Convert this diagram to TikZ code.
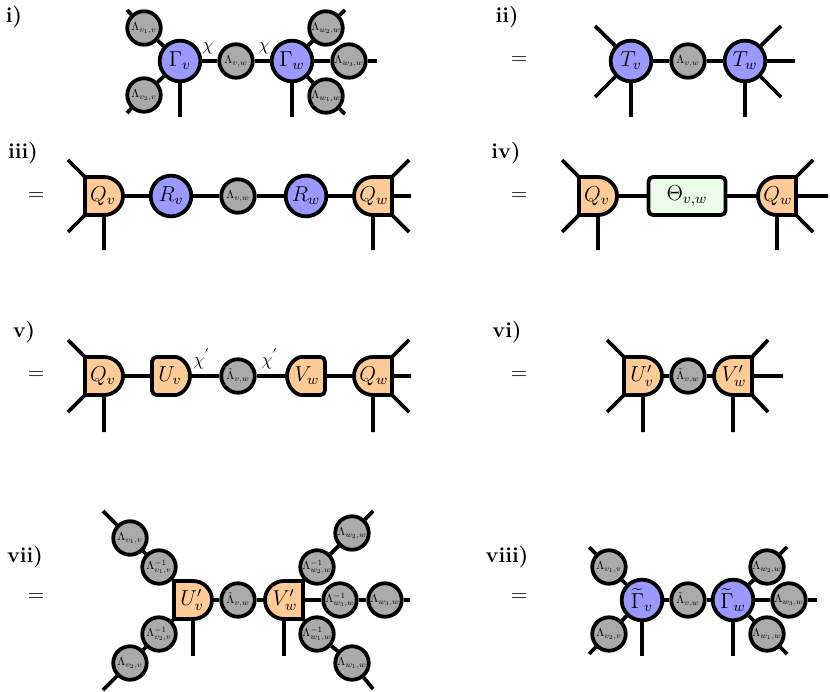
\documentclass[tikz,border=0pt]{standalone}
\usepackage{graphicx}
\definecolor{cblue}{RGB}{153,153,255}
\definecolor{cgray}{RGB}{170,170,170}
\definecolor{corange}{RGB}{255,204,153}
\definecolor{cgreen}{RGB}{235,252,232}
\newcommand{\tinylab}[1]{\makebox[0pt]{\scalebox{0.64}{$#1$}}}
\tikzset{
  big/.style={circle, draw, fill=cblue, minimum size=22.6pt, inner sep=0pt, font=\large},
  lam/.style={circle, draw, fill=cgray, minimum size=18.6pt, inner sep=0pt},
  lbl/.style={font=\large\bfseries, inner sep=0pt},
  eqs/.style={font=\large, inner sep=0pt},
  thbox/.style={rectangle, draw, fill=cgreen, rounded corners=2.5pt, minimum width=42.8pt, minimum height=21.1pt, inner sep=0pt, font=\large},
  rnd/.style={rounded corners=2.5pt},
  pics/dr/.style 2 args={code={
    \draw[fill=corange,#2] (-19,-19) -- (0,-19) arc(90:-90:10.556pt) -- (-19,19) -- cycle;
    \node[font=\large,inner sep=0pt] (-c) at (-1,0) {#1};
    \coordinate (-nw) at (-19,-19);
    \coordinate (-sw) at (-19,19);
    \coordinate (-s) at (0,19);
    \coordinate (-e) at (19,0);
    \coordinate (-w) at (-19,0);
  }},
  pics/dl/.style 2 args={code={
    \draw[fill=corange,#2] (19,-19) -- (0,-19) arc(90:270:10.556pt) -- (19,19) -- cycle;
    \node[font=\large,inner sep=0pt] (-c) at (1,0) {#1};
    \coordinate (-ne) at (19,-19);
    \coordinate (-se) at (19,19);
    \coordinate (-s) at (0,19);
    \coordinate (-e) at (19,0);
    \coordinate (-w) at (-19,0);
  }},
}
\begin{document}
\begin{tikzpicture}[x=0.5556pt,y=-0.5556pt,line width=2.1pt]
\useasboundingbox (0,0) rectangle (830,692);

% ---------- i)
\node[lbl] (Li) at (14,17) {i)};
\node[big] (gv1) at (180,61) {$\Gamma_v$};
\node[lam] (lvw1) at (236,61) {\tinylab{\Lambda_{v,w}}};
\node[big] (gw1) at (292,61) {$\Gamma_w$};
\node[lam] (lv11) at (144,28) {\tinylab{\Lambda_{v_1,v}}};
\node[lam] (lv21) at (144,95) {\tinylab{\Lambda_{v_2,v}}};
\node[lam] (lw21) at (326,28) {\tinylab{\Lambda_{w_2,w}}};
\node[lam] (lw31) at (349,61) {\tinylab{\Lambda_{w_3,w}}};
\node[lam] (lw11) at (326,96) {\tinylab{\Lambda_{w_1,w}}};
\coordinate (a1) at (127,10);
\coordinate (a2) at (127,113);
\coordinate (a3) at (180,117);
\coordinate (a4) at (292,117);
\coordinate (a5) at (345,10);
\coordinate (a6) at (377,61);
\coordinate (a7) at (345,114);
\draw (gv1)--(lvw1) (lvw1)--(gw1);
\draw (gv1)--(lv11) (lv11)--(a1);
\draw (gv1)--(lv21) (lv21)--(a2);
\draw (gv1)--(a3) (gw1)--(a4);
\draw (gw1)--(lw21) (lw21)--(a5);
\draw (gw1)--(lw31) (lw31)--(a6);
\draw (gw1)--(lw11) (lw11)--(a7);
\node (chi1) at (208,48) {$\chi$};
\node (chi2) at (264,48) {$\chi$};

% ---------- ii)
\node[lbl] (Lii) at (507,17) {ii)};
\node[eqs] (eq2) at (519,61) {$=$};
\node[big] (tv2) at (631,61) {$T_v$};
\node[lam] (lvw2) at (688,61) {\tinylab{\Lambda_{v,w}}};
\node[big] (tw2) at (745,61) {$T_w$};
\coordinate (b1) at (595,26);
\coordinate (b2) at (595,97);
\coordinate (b3) at (631,117);
\coordinate (b4) at (781,26);
\coordinate (b5) at (795,61);
\coordinate (b6) at (781,97);
\coordinate (b7) at (745,117);
\draw (tv2)--(lvw2) (lvw2)--(tw2);
\draw (tv2)--(b1) (tv2)--(b2) (tv2)--(b3);
\draw (tw2)--(b4) (tw2)--(b5) (tw2)--(b6) (tw2)--(b7);

% ---------- iii)
\node[lbl] (Liii) at (23,153) {iii)};
\node[eqs] (eq3) at (36,197) {$=$};
\pic (qv3) at (104,196) {dr={$Q_v$}{}};
\node[big] (rv3) at (171,196) {$R_v$};
\node[lam] (lvw3) at (238,196) {\tinylab{\Lambda_{v,w}}};
\node[big] (rw3) at (306,196) {$R_w$};
\pic (qw3) at (373,196) {dl={$Q_w$}{}};
\coordinate (c1) at (68,160);
\coordinate (c2) at (68,232);
\coordinate (c3) at (104,250);
\coordinate (c4) at (409,160);
\coordinate (c5) at (411,196);
\coordinate (c6) at (409,232);
\coordinate (c7) at (373,250);
\draw (qv3-nw)--(c1) (qv3-sw)--(c2) (qv3-s)--(c3);
\draw (qw3-ne)--(c4) (qw3-e)--(c5) (qw3-se)--(c6) (qw3-s)--(c7);
\draw (qv3-e)--(rv3) (rv3)--(lvw3) (lvw3)--(rw3) (rw3)--(qw3-w);

% ---------- iv)
\node[lbl] (Liv) at (506,153) {iv)};
\node[eqs] (eq4) at (519,197) {$=$};
\pic (qv4) at (598,196) {dr={$Q_v$}{}};
\node[thbox] (th4) at (687,196) {$\Theta_{v,w}$};
\pic (qw4) at (777,196) {dl={$Q_w$}{}};
\coordinate (d1) at (562,160);
\coordinate (d2) at (562,232);
\coordinate (d3) at (598,250);
\coordinate (d4) at (813,160);
\coordinate (d5) at (828,196);
\coordinate (d6) at (813,232);
\coordinate (d7) at (777,250);
\draw (qv4-nw)--(d1) (qv4-sw)--(d2) (qv4-s)--(d3);
\draw (qw4-ne)--(d4) (qw4-e)--(d5) (qw4-se)--(d6) (qw4-s)--(d7);
\draw (qv4-e)--(th4) (th4)--(qw4-w);

% ---------- v)
\node[lbl] (Lv) at (24,332) {v)};
\node[eqs] (eq5) at (36,376) {$=$};
\pic (qv5) at (104,376) {dr={$Q_v$}{}};
\pic (uv5) at (171,376) {dr={$U_v$}{rnd}};
\node[lam] (lvw5) at (238,376) {\tinylab{\tilde\Lambda_{v,w}}};
\pic (vw5) at (306,376) {dl={$V_w$}{rnd}};
\pic (qw5) at (373,376) {dl={$Q_w$}{}};
\coordinate (e1) at (68,340);
\coordinate (e2) at (68,412);
\coordinate (e3) at (104,432);
\coordinate (e4) at (409,340);
\coordinate (e5) at (411,376);
\coordinate (e6) at (409,412);
\coordinate (e7) at (373,432);
\draw (qv5-nw)--(e1) (qv5-sw)--(e2) (qv5-s)--(e3);
\draw (qw5-ne)--(e4) (qw5-e)--(e5) (qw5-se)--(e6) (qw5-s)--(e7);
\draw (qv5-e)--(uv5-w) (uv5-e)--(lvw5) (lvw5)--(vw5-w) (vw5-e)--(qw5-w);
\node (chi5a) at (202,359) {$\chi^{'}$};
\node (chi5b) at (270,359) {$\chi^{'}$};

% ---------- vi)
\node[lbl] (Lvi) at (507,332) {vi)};
\node[eqs] (eq6) at (519,376) {$=$};
\pic (uv6) at (643,376) {dr={$U'_v$}{}};
\node[lam] (lvw6) at (688,376) {\tinylab{\tilde\Lambda_{v,w}}};
\pic (vw6) at (733,376) {dl={$V'_w$}{}};
\coordinate (f1) at (607,340);
\coordinate (f2) at (607,412);
\coordinate (f3) at (643,432);
\coordinate (f4) at (768,340);
\coordinate (f5) at (783,376);
\coordinate (f6) at (768,412);
\coordinate (f7) at (733,432);
\draw (uv6-nw)--(f1) (uv6-sw)--(f2) (uv6-s)--(f3);
\draw (vw6-ne)--(f4) (vw6-e)--(f5) (vw6-se)--(f6) (vw6-s)--(f7);
\draw (uv6-e)--(lvw6) (lvw6)--(vw6-w);

% ---------- vii)
\node[lbl] (Lvii) at (25,557) {vii)};
\node[eqs] (eq7) at (36,598) {$=$};
\pic (uv7) at (193,600) {dr={$U'_v$}{}};
\node[lam] (lvw7) at (238,600) {\tinylab{\tilde\Lambda_{v,w}}};
\pic (vw7) at (284,600) {dl={$V'_w$}{}};
\node[lam] (iv17) at (159,567) {\tinylab{\Lambda^{-1}_{v_1,v}}};
\node[lam] (v17) at (130,538) {\tinylab{\Lambda_{v_1,v}}};
\node[lam] (iv27) at (159,634) {\tinylab{\Lambda^{-1}_{v_2,v}}};
\node[lam] (v27) at (130,663) {\tinylab{\Lambda_{v_2,v}}};
\node[lam] (iw27) at (317,567) {\tinylab{\Lambda^{-1}_{w_2,w}}};
\node[lam] (w27) at (352,533) {\tinylab{\Lambda_{w_2,w}}};
\node[lam] (iw37) at (340,600) {\tinylab{\Lambda^{-1}_{w_3,w}}};
\node[lam] (w37) at (385,600) {\tinylab{\Lambda_{w_3,w}}};
\node[lam] (iw17) at (317,634) {\tinylab{\Lambda^{-1}_{w_1,w}}};
\node[lam] (w17) at (352,663) {\tinylab{\Lambda_{w_1,w}}};
\coordinate (g1) at (103,511);
\coordinate (g2) at (103,690);
\coordinate (g3) at (193,656);
\coordinate (g4) at (284,656);
\coordinate (g5) at (373,511);
\coordinate (g6) at (410,600);
\coordinate (g7) at (373,689);
\draw (uv7-nw)--(iv17) (iv17)--(v17) (v17)--(g1);
\draw (uv7-sw)--(iv27) (iv27)--(v27) (v27)--(g2);
\draw (uv7-s)--(g3) (vw7-s)--(g4);
\draw (vw7-ne)--(iw27) (iw27)--(w27) (w27)--(g5);
\draw (vw7-e)--(iw37) (iw37)--(w37) (w37)--(g6);
\draw (vw7-se)--(iw17) (iw17)--(w17) (w17)--(g7);
\draw (uv7-e)--(lvw7) (lvw7)--(vw7-w);

% ---------- viii)
\node[lbl] (Lviii) at (507,557) {viii)};
\node[eqs] (eq8) at (519,598) {$=$};
\node[big] (gv8) at (642,600) {$\widetilde{\Gamma}_v$};
\node[lam] (lvw8) at (688,600) {\tinylab{\tilde\Lambda_{v,w}}};
\node[big] (gw8) at (733,600) {$\widetilde{\Gamma}_w$};
\node[lam] (v18) at (609,567) {\tinylab{\Lambda_{v_1,v}}};
\node[lam] (v28) at (609,634) {\tinylab{\Lambda_{v_2,v}}};
\node[lam] (w28) at (767,567) {\tinylab{\Lambda_{w_2,w}}};
\node[lam] (w38) at (789,600) {\tinylab{\Lambda_{w_3,w}}};
\node[lam] (w18) at (767,634) {\tinylab{\Lambda_{w_1,w}}};
\coordinate (h1) at (589,547);
\coordinate (h2) at (589,654);
\coordinate (h3) at (642,656);
\coordinate (h4) at (733,656);
\coordinate (h5) at (787,547);
\coordinate (h6) at (817,600);
\coordinate (h7) at (787,654);
\draw (gv8)--(lvw8) (lvw8)--(gw8);
\draw (gv8)--(v18) (v18)--(h1);
\draw (gv8)--(v28) (v28)--(h2);
\draw (gv8)--(h3) (gw8)--(h4);
\draw (gw8)--(w28) (w28)--(h5);
\draw (gw8)--(w38) (w38)--(h6);
\draw (gw8)--(w18) (w18)--(h7);
\end{tikzpicture}
\end{document}
